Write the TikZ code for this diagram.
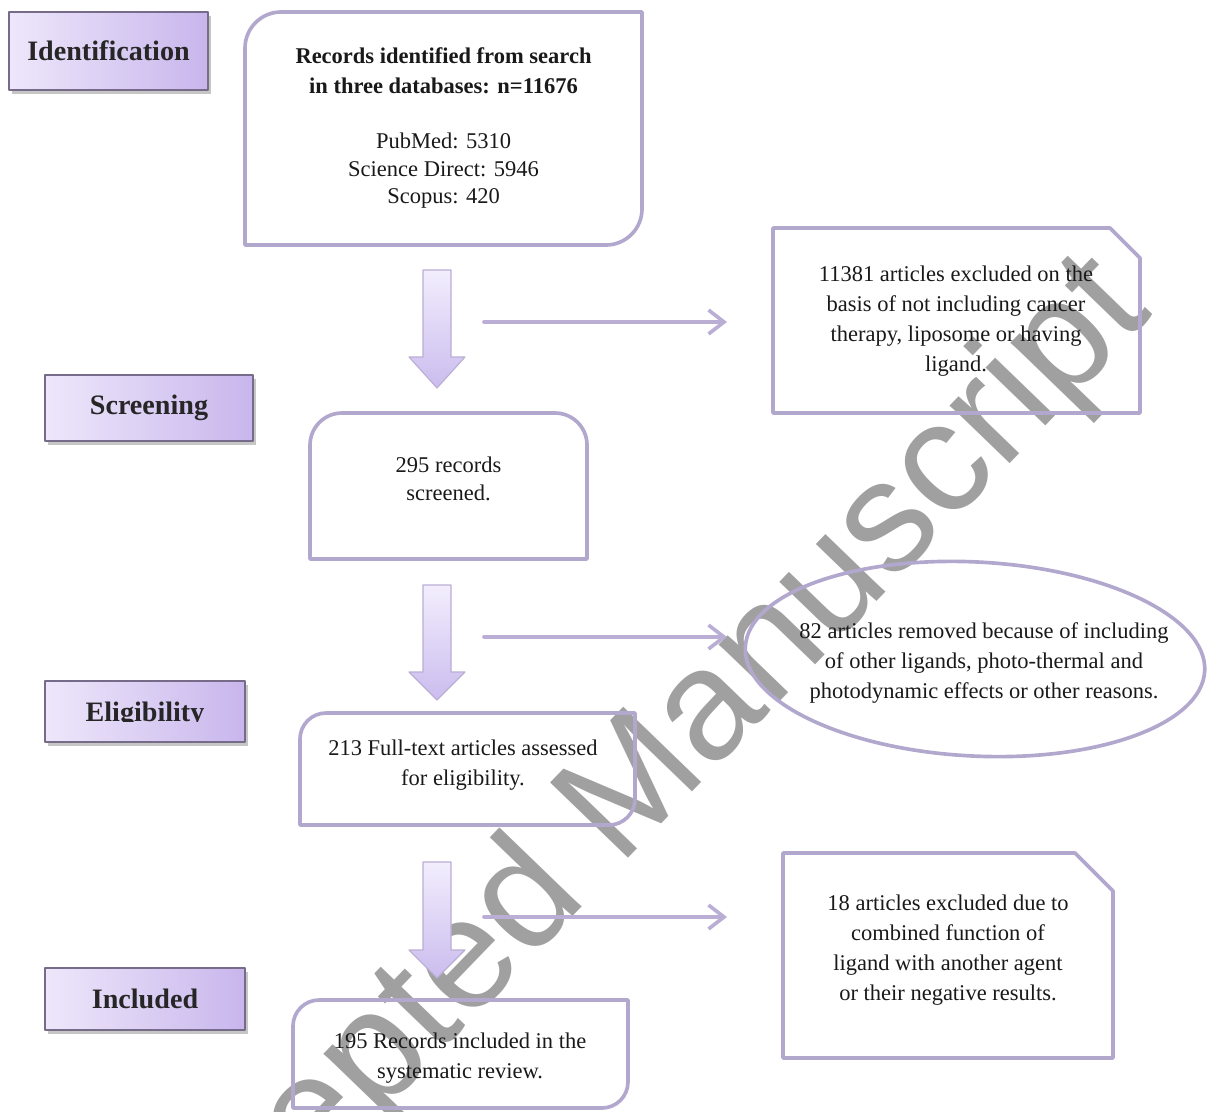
\documentclass[tikz,border=0pt]{standalone}
\usepackage{fontspec}
\setmainfont{Liberation Serif}
\newfontfamily\wmfont{Liberation Sans}
\usetikzlibrary{arrows.meta,shadows,shapes.geometric}

\definecolor{lineLav}{RGB}{178,168,206}
\definecolor{arrowLav}{RGB}{186,174,212}
\definecolor{phaseEdge}{RGB}{118,108,138}
\definecolor{phaseLeft}{RGB}{238,231,251}
\definecolor{phaseRight}{RGB}{200,182,236}
\definecolor{blockTop}{RGB}{242,238,253}
\definecolor{blockBot}{RGB}{203,188,238}
\definecolor{wmGray}{RGB}{160,160,160}

% box with rounded top-left and bottom-right corners: x1,y1,x2,y2,r
\newcommand{\diagbox}[5]{%
  \draw[boxline] (#1,#4) -- (#1,#2+#5) .. controls (#1,#2+0.45*#5) and (#1+0.45*#5,#2) .. (#1+#5,#2)
    -- (#3,#2) -- (#3,#4-#5) .. controls (#3,#4-0.45*#5) and (#3-0.45*#5,#4) .. (#3-#5,#4) -- cycle;
}
% box with both top corners rounded
\newcommand{\topbox}[5]{%
  \draw[boxline] (#1,#4) -- (#1,#2+#5) .. controls (#1,#2+0.45*#5) and (#1+0.45*#5,#2) .. (#1+#5,#2)
    -- (#3-#5,#2) .. controls (#3-0.45*#5,#2) and (#3,#2+0.45*#5) .. (#3,#2+#5) -- (#3,#4) -- cycle;
}
% box with the top-right corner cut off
\newcommand{\snipbox}[5]{%
  \draw[boxline] (#1,#2) -- (#3-#5,#2) -- (#3,#2+#5) -- (#3,#4) -- (#1,#4) -- cycle;
}
% wide arrow pointing down: x centre, top, head start, tip
\newcommand{\blockdown}[4]{%
  \shadedraw[top color=blockTop, bottom color=blockBot, draw=arrowLav, line width=0.8pt]
    (#1-14,#2) -- (#1+14,#2) -- (#1+14,#3) -- (#1+28,#3) -- (#1,#4) -- (#1-28,#3) -- (#1-14,#3) -- cycle;
}

\begin{document}
\begin{tikzpicture}[x=0.025cm, y=-0.025cm, line join=round]
\tikzset{
  boxline/.style={draw=lineLav, line width=2.6pt},
  phase/.style={draw=phaseEdge, line width=1.1pt, left color=phaseLeft, right color=phaseRight,
    drop shadow={shadow xshift=2pt, shadow yshift=-2.5pt, opacity=0.45},
    font=\fontsize{20}{24}\selectfont\bfseries, text=black!85, inner sep=0pt},
  txt/.style={align=center, font=\fontsize{16}{21.5}\selectfont, text=black!90},
  excl/.style={-{Straight Barb[length=11pt, width=17pt]}, draw=arrowLav, line width=2.6pt, line cap=round},
  wm/.style={font=\wmfont\fontsize{112}{112}\selectfont, text=wmGray}
}
\useasboundingbox (0,0) rectangle (1207,1111);
\clip (0,0) rectangle (1207,1111);

% watermark
\node[wm, rotate=46, anchor=base east] (wmark) at (1158,310) {Accepted Manuscript};

% phase labels
\node[phase, minimum width=4.975cm, minimum height=1.95cm] (idLbl) at (108.5,51) {Identification};
\node[phase, minimum width=5.2cm, minimum height=1.65cm] (scrLbl) at (149,408) {Screening};
\node[phase, minimum width=5.0cm, minimum height=1.525cm] (eligLbl) at (145,711.5) {};
\begin{scope}
  \clip (45,681) rectangle (245,721);
  \node[font=\fontsize{20}{24}\selectfont\bfseries, text=black!85, anchor=base] (eligTxt) at (145,721) {Eligibility};
\end{scope}
\node[phase, minimum width=5.0cm, minimum height=1.55cm] (inclLbl) at (145,999) {Included};

% main boxes
\diagbox{245}{12}{642}{245}{36}
\node[txt, font=\fontsize{16}{19.5}\selectfont] (recs) at (443.5,128)
  {\textbf{Records identified from search}\\[1.8pt]\textbf{in three databases: n=11676}\\[20pt]
   PubMed: 5310\\ Science Direct: 5946\\ Scopus: 420};
\topbox{310}{413}{587}{559}{32}
\node[txt, font=\fontsize{16}{20}\selectfont] (screened) at (448.5,479) {295 records\\ screened.};
\diagbox{300}{713}{635}{825}{26}
\node[txt] (assessed) at (463,765) {213 Full-text articles assessed\\ for eligibility.};
\diagbox{293}{1000}{628}{1108}{26}
\node[txt] (included) at (460,1058) {195 Records included in the\\ systematic review.};

% exclusion boxes
\snipbox{773}{228}{1140}{413}{30}
\node[txt] (excl1) at (956,321) {11381 articles excluded on the\\ basis of not including cancer\\ therapy, liposome or having\\ ligand.};
\draw[boxline, rotate around={-3:(975,659)}] (975,659) ellipse [x radius=230, y radius=97];
\node[txt, font=\fontsize{16}{21}\selectfont] (excl2) at (984,663) {82 articles removed because of including\\ of other ligands, photo-thermal and\\ photodynamic effects or other reasons.};
\snipbox{783}{853}{1113}{1058}{38}
\node[txt] (excl3) at (948,950) {18 articles excluded due to\\ combined function of\\ ligand with another agent\\ or their negative results.};

% flow arrows
\blockdown{437}{270}{357}{388}
\blockdown{437}{585}{672}{700}
\blockdown{437}{862}{950}{978}

% side arrows
\foreach \i/\yy in {1/322, 2/637, 3/917}{
  \coordinate (s\i) at (484,\yy);
  \coordinate (e\i) at (727,\yy);
  \draw[excl] (s\i) -- (e\i);
}
\end{tikzpicture}
\end{document}
